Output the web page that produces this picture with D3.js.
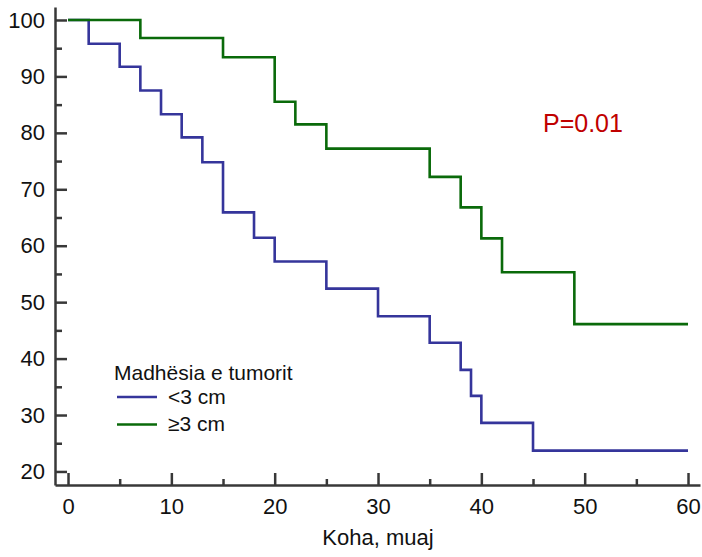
<!DOCTYPE html>
<html>
<head>
<meta charset="utf-8">
<script src="https://cdn.jsdelivr.net/npm/d3@7"></script>
<style>
  body { margin: 0; background: #fff; }
  text { font-family: "Liberation Sans", Arial, sans-serif; fill: #111; }
</style>
</head>
<body>
<script>
// survival curves, time in months
var smallTime = [0, 2, 5, 7, 9, 11, 13, 15, 18, 20, 25, 30, 35, 38, 39, 40, 45, 60];
var smallSurv = [100, 95.8, 91.7, 87.5, 83.3, 79.2, 74.8, 65.9, 61.4, 57.2, 52.4, 47.5, 42.8, 38.0, 33.4, 28.6, 23.7, 23.7];

var bigTime = [0, 7, 15, 20, 22, 25, 35, 38, 40, 42, 49, 60];
var bigSurv = [100, 96.8, 93.4, 85.5, 81.5, 77.2, 72.2, 66.8, 61.3, 55.3, 46.1, 46.1];

var xTicks = [0, 10, 20, 30, 40, 50, 60];
var xMinor = [5, 15, 25, 35, 45, 55];
var yTicks = [20, 30, 40, 50, 60, 70, 80, 90, 100];
var yMinor = [25, 35, 45, 55, 65, 75, 85, 95];

var legendTitle = "Madhësia e tumorit";
var seriesNames = ["<3 cm", "≥3 cm"];
var colors = ["#35359b", "#0a6a0a"];

var width = 702, height = 557;

var x = d3.scaleLinear()
          .domain([-1.26, 61.16])
          .range([55, 700]);

var y = d3.scaleLinear()
          .domain([17.6, 102.3])
          .range([485, 7]);

var svg = d3.select('body')
            .append('svg')
            .attr('width', width)
            .attr('height', height);

// axes, ticks point inward
svg.append('g')
    .attr('transform', 'translate(0,' + y(17.6) + ')')
    .call(d3.axisBottom(x).tickValues(xTicks).tickSizeInner(-12).tickSizeOuter(0).tickPadding(13));

svg.append('g')
    .attr('transform', 'translate(0,' + y(17.6) + ')')
    .call(d3.axisBottom(x).tickValues(xMinor).tickSizeInner(-6).tickSizeOuter(0).tickFormat(''))
    .select('.domain').remove();

svg.append('g')
    .attr('transform', 'translate(' + x(-1.26) + ',0)')
    .call(d3.axisLeft(y).tickValues(yTicks).tickSizeInner(-12).tickSizeOuter(0).tickPadding(10));

svg.append('g')
    .attr('transform', 'translate(' + x(-1.26) + ',0)')
    .call(d3.axisLeft(y).tickValues(yMinor).tickSizeInner(-7).tickSizeOuter(0).tickFormat(''))
    .select('.domain').remove();

svg.selectAll('.domain, .tick line')
   .attr('stroke', '#383838')
   .attr('stroke-width', 2.5);

svg.selectAll('.tick text')
   .attr('font-size', 22)
   .attr('font-family', '"Liberation Sans", Arial, sans-serif')
   .attr('fill', '#111');

// curves
var line = d3.line()
             .x(function(d) { return x(d[0]); })
             .y(function(d) { return y(d[1]); })
             .curve(d3.curveStepAfter);

var series = [
  d3.zip(smallTime, smallSurv),
  d3.zip(bigTime, bigSurv)
];

svg.selectAll('path.curve')
   .data(series)
   .enter().append('path')
   .attr('class', 'curve')
   .attr('d', line)
   .attr('fill', 'none')
   .attr('stroke', function(d, i) { return colors[i]; })
   .attr('stroke-width', 2.6);

// axis title
svg.append('text')
   .attr('x', x(30))
   .attr('y', 545)
   .attr('text-anchor', 'middle')
   .attr('font-size', 22)
   .text('Koha, muaj');

// p value
svg.append('text')
   .attr('x', 543)
   .attr('y', 132)
   .attr('font-family', 'Lato, "Open Sans", sans-serif')
   .attr('font-size', 25)
   .style('fill', '#c00000')
   .text('P=0.01');

// legend
var legend = svg.append('g');
legend.append('text')
      .attr('x', 114)
      .attr('y', 380)
      .attr('font-size', 21)
      .text(legendTitle);

var items = legend.selectAll('g.item')
                  .data(seriesNames)
                  .enter().append('g')
                  .attr('class', 'item')
                  .attr('transform', function(d, i) { return 'translate(0,' + (i * 27.5) + ')'; });

items.append('line')
     .attr('x1', 117)
     .attr('x2', 157)
     .attr('y1', 397)
     .attr('y2', 397)
     .attr('stroke', function(d, i) { return colors[i]; })
     .attr('stroke-width', 2.6);

items.append('text')
     .attr('x', 168)
     .attr('y', 403.5)
     .attr('font-size', 21)
     .text(function(d) { return d; });
</script>
</body>
</html>
